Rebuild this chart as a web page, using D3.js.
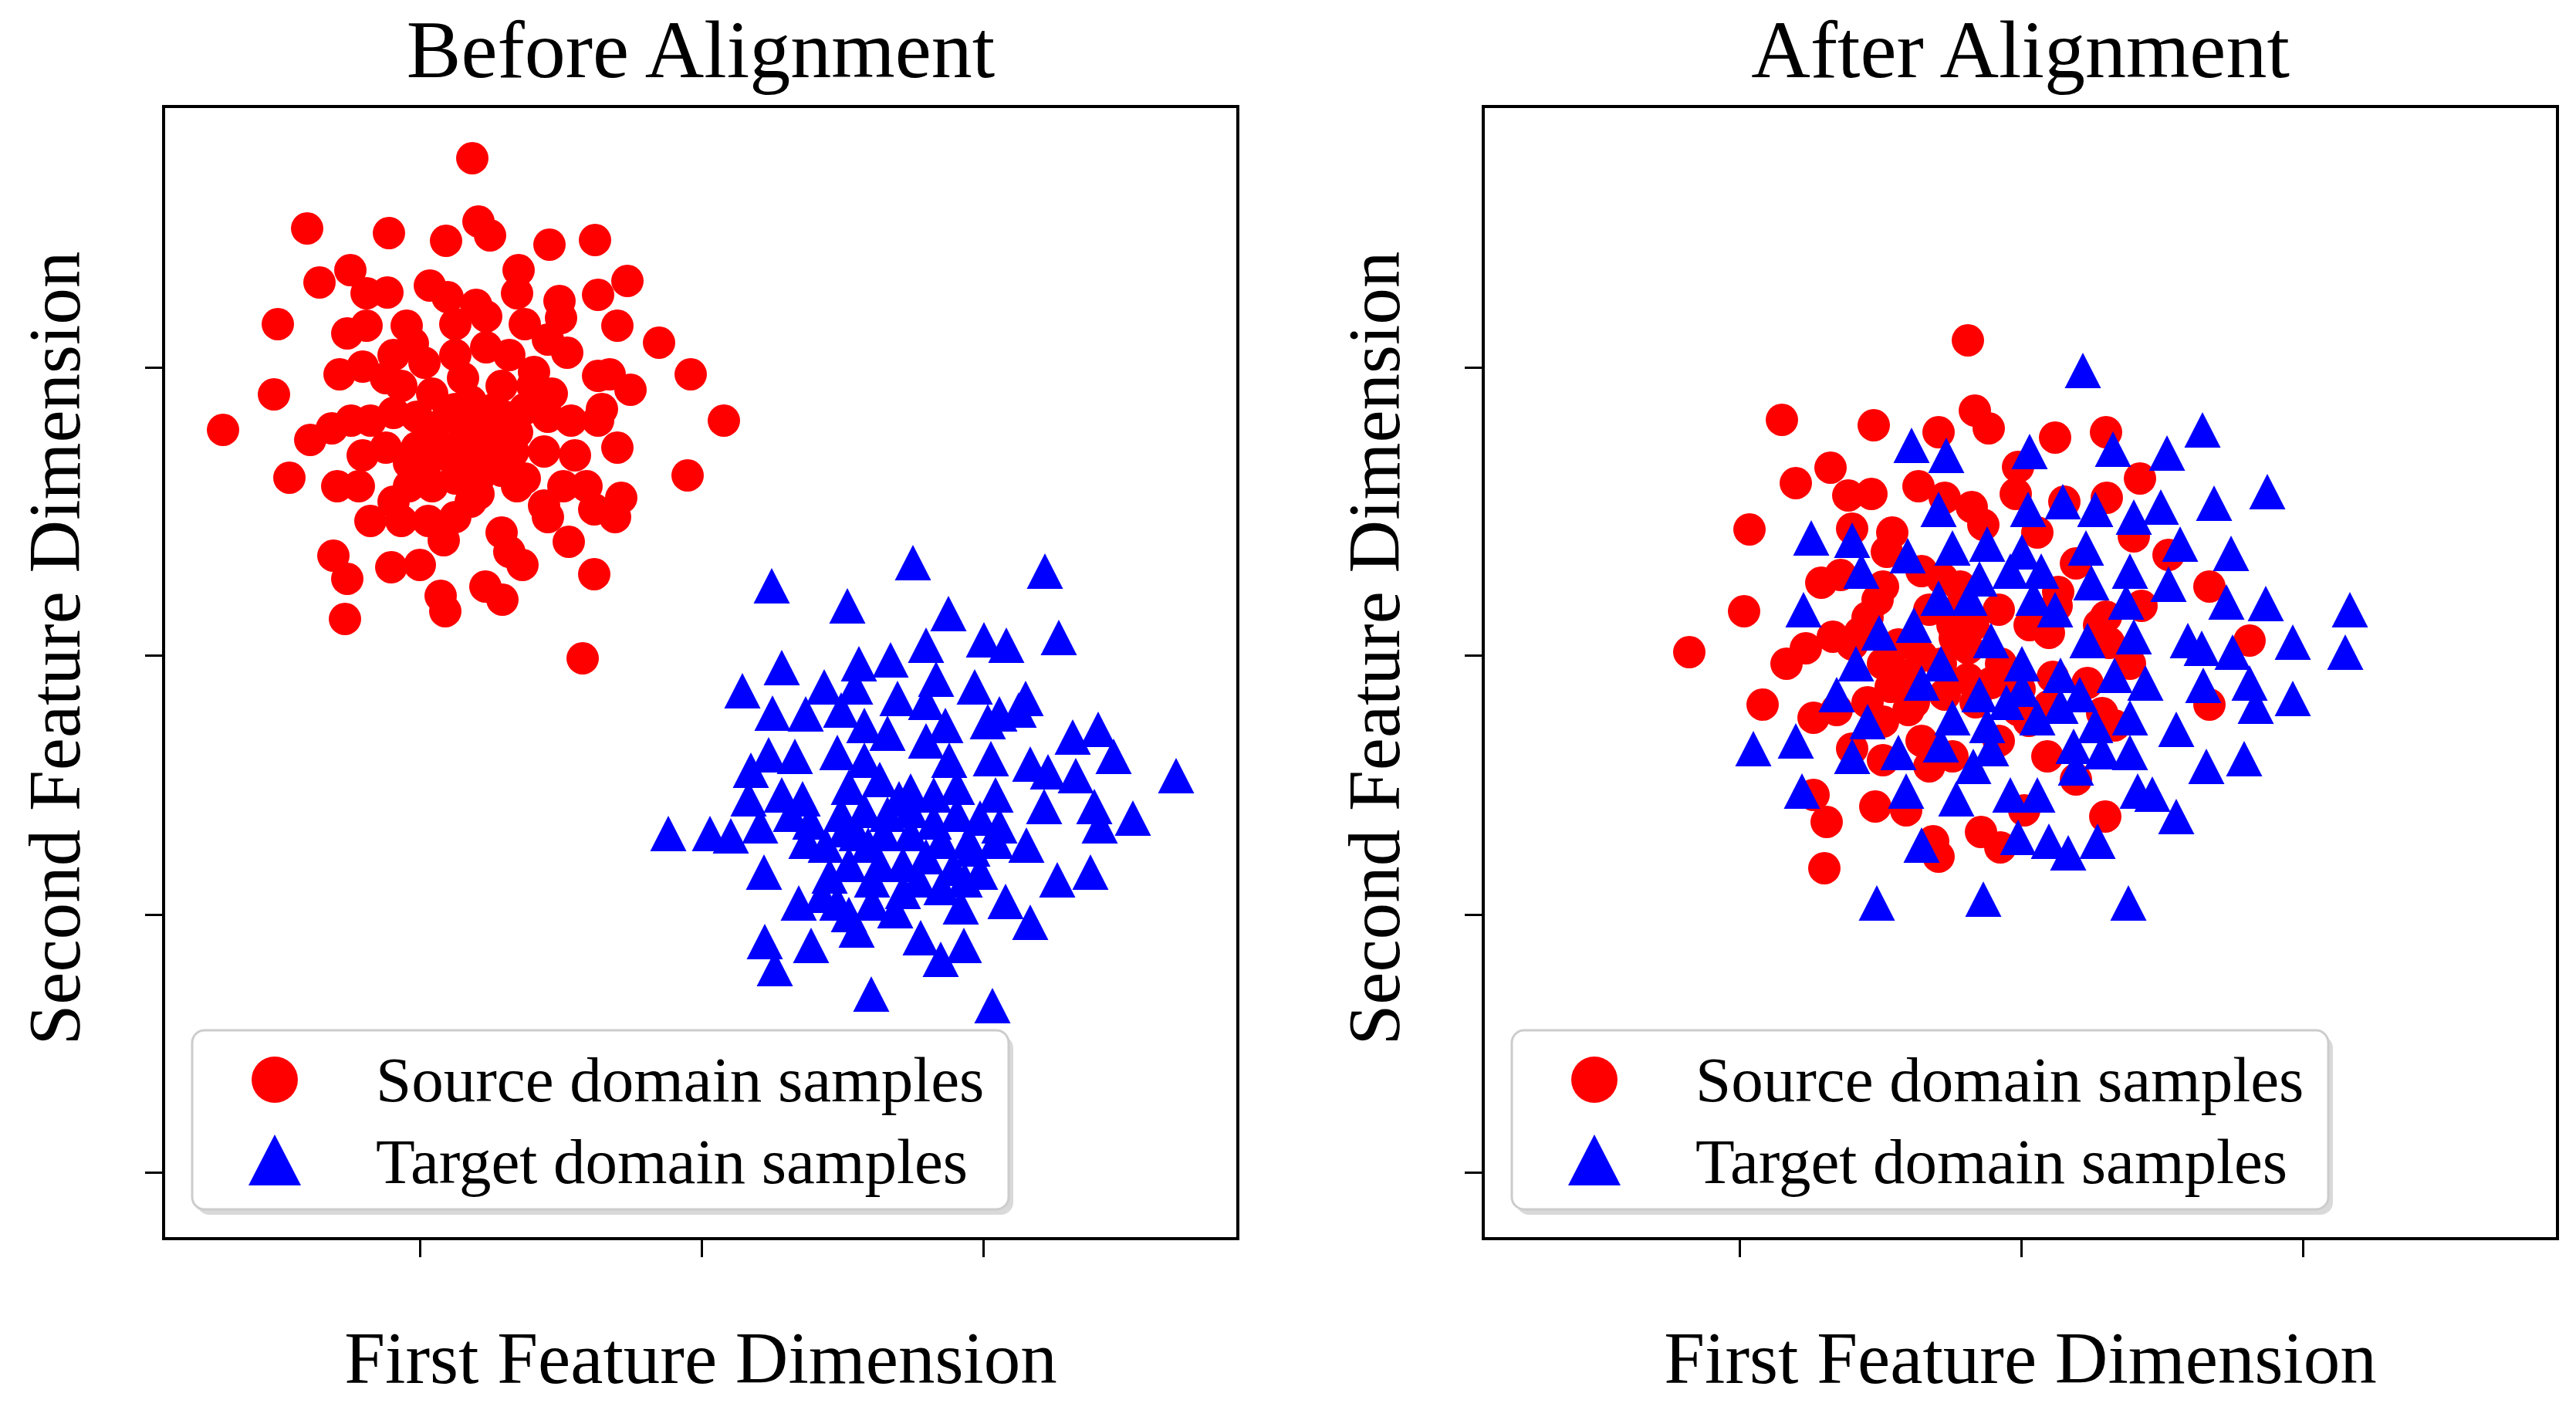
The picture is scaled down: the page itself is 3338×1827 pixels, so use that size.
<!DOCTYPE html>
<html>
<head>
<meta charset="utf-8">
<script src="https://cdn.jsdelivr.net/npm/d3@7"></script>
<style>
  body { margin: 0; background: #fff; }
  text { font-family: "Liberation Serif", "DejaVu Serif", serif; fill: #000; }
</style>
</head>
<body>
<div id="chart"></div>
<script>

// feature coordinates (arbitrary units, 0 at the middle ticks)
var beforeSource = [
  [-2.97,6.44],[-5.11,5.53],[-4.05,5.47],[-3.31,5.37],[-2.89,5.62],[-2.74,5.44],[-1.97,5.32],[-1.38,5.38],
  [-4.95,4.83],[-4.55,4.99],[-4.34,4.69],[-4.07,4.70],[-3.52,4.79],[-3.29,4.64],[-2.92,4.54],[-2.37,4.99],[-2.39,4.69],[-1.84,4.59],[-1.82,4.37],[-1.34,4.67],[-0.96,4.85],
  [-5.49,4.29],[-4.59,4.17],[-4.34,4.27],[-3.82,4.27],[-3.74,4.04],[-3.19,4.29],[-2.79,4.39],[-2.79,3.99],[-2.29,4.29],[-1.99,4.09],[-1.74,3.92],[-1.09,4.27],[-0.55,4.05],
  [-4.69,3.64],[-4.39,3.74],[-4.09,3.59],[-3.89,3.49],[-3.59,3.79],[-3.19,3.89],[-3.09,3.59],[-2.59,3.49],[-2.17,3.67],[-1.94,3.39],[-1.34,3.62],[-1.19,3.64],[-0.92,3.44],[-0.14,3.64],
  [-5.54,3.38],[-6.20,2.92],[-5.07,2.79],[-4.79,2.94],[-4.54,3.04],[-4.29,3.04],[-3.99,3.14],[-3.69,3.09],[-3.49,2.89],[-3.19,3.19],[-2.89,2.99],[-2.54,3.09],[-2.29,3.19],[-1.99,3.09],[-1.69,3.04],[-1.34,3.04],[-1.09,2.69],[0.29,3.04],
  [-5.34,2.30],[-4.72,2.19],[-4.44,2.19],[-4.39,2.59],[-4.09,2.69],[-3.79,2.49],[-3.59,2.39],[-3.29,2.59],[-2.99,2.49],[-2.79,2.59],[-2.44,2.64],[-2.04,2.64],[-1.64,2.59],[-1.49,2.19],[-1.04,2.04],[-1.12,1.79],[-0.18,2.33],
  [-4.29,1.74],[-3.99,1.99],[-3.89,1.74],[-3.54,1.74],[-3.34,1.49],[-3.19,1.79],[-2.89,2.09],[-2.59,1.59],[-2.39,2.19],[-2.04,1.94],[-1.99,1.79],[-1.72,1.47],[-2.49,1.34],[-2.32,1.17],
  [-4.77,1.29],[-4.59,0.99],[-4.02,1.14],[-3.65,1.17],[-3.38,0.77],[-3.32,0.57],[-2.80,0.89],[-2.58,0.72],[-1.39,1.05],[-4.62,0.47],[-1.54,-0.04],
  [-3.49,3.39],[-3.29,3.09],[-2.99,3.29],[-2.69,3.19],[-3.39,2.69],[-3.09,2.79],[-2.69,2.79],[-2.39,2.89],[-3.69,2.69],[-3.49,2.19],[-3.19,2.29],[-2.89,2.29],[-2.59,2.39],[-3.79,2.19],[-2.29,2.29],[-1.79,2.19],[-2.99,1.99],[-1.39,1.89],[-1.29,3.19],[-2.19,3.49],[-3.99,3.89],[-2.49,3.89]
];

var beforeTarget = [
  [2.74,1.20],[4.45,1.09],[0.91,0.90],[1.89,0.64],[3.20,0.54],[4.63,0.23],[3.66,0.20],[3.95,0.13],[2.91,0.13],
  [1.04,-0.16],[2.04,-0.11],[2.45,-0.06],[0.53,-0.46],[1.59,-0.41],[1.99,-0.41],[3.04,-0.31],[3.54,-0.41],[4.20,-0.56],
  [0.92,-0.75],[1.35,-0.76],[1.81,-0.71],[2.54,-0.56],[2.91,-0.61],[3.71,-0.86],[3.86,-0.76],[4.11,-0.71],[2.11,-0.91],[2.41,-1.01],[3.16,-0.91],[2.91,-1.11],[4.81,-1.06],[5.14,-0.96],[5.34,-1.31],
  [0.64,-1.49],[0.87,-1.29],[1.21,-1.31],[1.76,-1.26],[2.11,-1.36],[3.21,-1.36],[3.75,-1.34],[4.26,-1.41],[4.49,-1.51],[4.85,-1.56],[6.15,-1.56],
  [0.61,-1.86],[1.04,-1.81],[1.31,-1.86],[1.91,-1.71],[2.31,-1.61],[2.71,-1.76],[3.31,-1.71],[3.81,-1.81],[4.44,-1.96],[5.09,-1.96],
  [-0.43,-2.31],[0.11,-2.31],[0.38,-2.34],[0.76,-2.21],[1.16,-2.06],[1.41,-2.16],[1.81,-2.06],[2.11,-2.01],[2.41,-2.06],[2.71,-2.01],[3.01,-2.16],[3.31,-2.06],[3.61,-2.11],[3.86,-2.21],[4.21,-2.46],[5.16,-2.21],[5.59,-2.11],
  [0.81,-2.81],[1.61,-2.46],[2.01,-2.31],[2.36,-2.31],[2.71,-2.31],[3.11,-2.41],[3.46,-2.41],[3.81,-2.41],
  [1.66,-2.86],[1.91,-2.71],[2.31,-2.71],[2.61,-2.71],[2.91,-2.61],[3.26,-2.76],[3.61,-2.81],[4.61,-2.91],[5.04,-2.81],
  [1.26,-3.21],[1.56,-3.11],[1.76,-3.21],[2.21,-3.21],[2.61,-3.06],[3.11,-3.01],[3.36,-3.26],[3.94,-3.19],[4.26,-3.46],
  [2.01,-3.56],[2.84,-3.66],[3.40,-3.76],[0.82,-3.71],[1.42,-3.76],[3.10,-3.94],[0.95,-4.06],[2.20,-4.39],[3.77,-4.54],
  [1.86,-2.26],[2.56,-1.86],[3.01,-1.81],[2.16,-2.46],[3.41,-2.91],[1.36,-2.41],[2.81,-2.91],[2.21,-2.91],[3.51,-2.51],[1.91,-3.36],[2.51,-3.31]
];

var afterSource = [
  [-0.69,4.08],[-3.10,3.05],[-1.91,2.98],[-1.07,2.89],[-0.60,3.17],[-0.42,2.94],[0.44,2.82],[1.10,2.89],
  [-2.92,2.23],[-2.47,2.43],[-2.24,2.07],[-1.94,2.09],[-1.33,2.19],[-0.99,2.04],[-0.64,1.92],[-0.04,2.44],[-0.07,2.09],[0.56,1.99],[1.11,2.04],[1.54,2.29],
  [-3.52,1.63],[-2.19,1.64],[-1.67,1.59],[-1.74,1.34],[-0.49,1.69],[0.21,1.59],[0.71,1.19],[1.46,1.54],
  [-2.59,0.94],[-2.34,1.04],[-1.79,0.89],[-1.29,1.09],[-0.79,0.89],[0.46,0.64],[1.56,0.64],[-3.59,0.57],
  [-4.30,0.04],[-3.04,-0.11],[-2.79,0.09],[-2.44,0.24],[-2.19,0.14],[-1.79,-0.11],[-1.49,-0.26],[-0.89,0.39],[-0.69,0.09],[-0.29,0.59],[0.11,0.39],[0.36,0.29],[1.01,0.39],[1.41,-0.11],
  [-3.35,-0.64],[-2.69,-0.81],[-2.39,-0.71],[-1.99,-0.61],[-1.69,-0.41],[-1.39,-0.61],[-0.99,-0.51],[-0.59,-0.61],[-0.04,-0.71],[0.36,-0.66],[0.86,-0.36],[1.21,-0.91],
  [-2.19,-1.21],[-1.79,-1.36],[-1.29,-1.11],[-0.89,-1.31],[-0.29,-1.11],[0.34,-1.31],[0.71,-1.61],
  [-2.69,-1.81],[-2.52,-2.16],[-1.89,-1.96],[-1.49,-2.01],[-1.14,-2.41],[-1.07,-2.61],[-0.52,-2.29],[-0.27,-2.49],[0.04,-2.01],[1.09,-2.09],[-2.55,-2.76],
  [-1.59,0.14],[-1.29,-0.01],[-1.04,-0.11],[-0.69,-0.31],[-1.79,-0.86],[-0.39,-0.36],[-1.19,0.59],[-1.99,0.49],
  [2.44,0.89],[2.96,0.19],[2.44,-0.64],
  [-1.86,0.72],[-1.02,0.99],[-0.86,0.56],[0.48,0.82],[-2.09,0.29],[-1.52,-0.44],[-0.86,0.22],[-0.26,-0.11],[0.41,-0.28],[-0.02,-0.44],
  [-1.19,-1.44],[-1.60,-0.25],[-1.46,-0.71],[-0.62,0.39],[1.91,1.30],[1.10,0.50],[1.14,0.16],[1.05,-0.75],[0.10,-0.85]
];

var afterTarget = [
  [0.80,3.69],[-1.42,2.72],[-0.97,2.59],[0.11,2.64],[1.19,2.67],[-1.07,1.89],[0.54,1.99],[0.09,1.89],[0.96,1.89],[1.46,1.79],
  [-2.72,1.52],[-2.19,1.49],[-1.47,1.29],[-0.89,1.39],[-0.44,1.44],[0.01,1.34],[0.84,1.39],[-2.07,1.09],[-0.14,1.09],[0.26,1.09],[0.91,0.94],[1.41,1.09],
  [-2.82,0.59],[-1.07,0.74],[-0.67,0.74],[0.16,0.74],[0.44,0.59],[1.36,0.69],[-1.84,0.29],[-1.39,0.39],[-0.39,0.19],[0.86,0.19],[1.46,0.24],
  [-2.14,-0.11],[-1.04,-0.11],[0.01,-0.11],[0.51,-0.26],[1.21,-0.26],[-2.39,-0.51],[-1.29,-0.36],[-0.54,-0.51],[-0.19,-0.61],[0.76,-0.51],[1.61,-0.36],
  [-1.99,-0.86],[-0.89,-0.81],[-0.44,-0.91],[0.21,-0.81],[0.96,-0.91],[1.41,-0.81],
  [-3.47,-1.21],[-2.92,-1.11],[-2.19,-1.31],[-1.59,-1.26],[-1.04,-1.16],[-0.39,-1.21],[0.71,-1.46],[1.41,-1.26],
  [-2.84,-1.76],[-1.49,-1.76],[-0.84,-1.86],[-0.14,-1.81],[0.21,-1.81],[1.51,-1.76],
  [-1.29,-2.46],[-0.04,-2.36],[0.36,-2.41],[0.99,-2.41],[0.61,-2.56],[-1.87,-3.21],[-0.49,-3.16],[1.39,-3.21],
  [2.35,2.92],[1.89,2.62],[3.19,2.12],[2.50,1.97],[2.06,1.44],[2.72,1.32],[2.66,0.69],[3.17,0.67],[4.26,0.59],[2.16,0.19],[2.34,0.09],[2.74,0.04],[3.52,0.17],[4.20,0.04],
  [2.36,-0.39],[2.96,-0.36],[3.52,-0.56],[3.04,-0.66],[2.01,-0.96],[2.40,-1.44],[2.89,-1.34],[2.01,-2.09],[1.91,0.92],
  [-0.54,0.99],[0.51,-0.66],
  [0.01,-0.44],[0.68,-1.18],[-0.62,-1.44],[1.81,1.92],[1.05,-1.25],[1.70,-1.80]
];

var panelTitles = ["Before Alignment", "After Alignment"];
var xLabel = "First Feature Dimension",
    yLabel = "Second Feature Dimension";
var legendLabels = ["Source domain samples", "Target domain samples"];
var xTicks = [-3.65, 0, 3.65];
var yTicks = [3.73, 0, -3.36, -6.70];
var xDomain = [-6.97, 6.95],
    yDomain = [-7.56, 7.11];

//Layout helpers
var width = 3338, height = 1827;
var frame = {left: 212, top: 138, width: 1392, height: 1467},
    panelShift = 1710;

var x = d3.scaleLinear().domain(xDomain).range([0, frame.width]),
    y = d3.scaleLinear().domain(yDomain).range([frame.height, 0]);

var xAxis = d3.axisBottom(x).tickValues(xTicks).tickFormat("").tickSizeInner(24).tickSizeOuter(0),
    yAxis = d3.axisLeft(y).tickValues(yTicks).tickFormat("").tickSizeInner(24).tickSizeOuter(0);

var svg = d3.select("#chart").append("svg")
            .attr("width", width)
            .attr("height", height);

svg.append("rect").attr("width", width).attr("height", height).attr("fill", "#fff");

// matplotlib style "^": box-centred triangle
function triangle(w, h) {
    return "M0," + (-h) + "L" + w + "," + h + "L" + (-w) + "," + h + "Z";
}

function drawPanel(i, source, target) {
    var g = svg.append("g")
        .attr("transform", "translate(" + (frame.left + i * panelShift) + "," + frame.top + ")");

    g.append("g").selectAll("circle")
        .data(source)
        .enter().append("circle")
        .attr("cx", function(d) { return x(d[0]); })
        .attr("cy", function(d) { return y(d[1]); })
        .attr("r", 21)
        .attr("fill", "#ff0000");

    g.append("g").selectAll("path")
        .data(target)
        .enter().append("path")
        .attr("d", triangle(23.5, 23))
        .attr("transform", function(d) { return "translate(" + x(d[0]) + "," + y(d[1]) + ")"; })
        .attr("fill", "#0000ff");

    var gx = g.append("g")
        .attr("transform", "translate(0," + frame.height + ")")
        .call(xAxis);
    var gy = g.append("g").call(yAxis);
    [gx, gy].forEach(function(a) {
        a.select(".domain").remove();
        a.selectAll(".tick line").attr("stroke", "#000").attr("stroke-width", 3);
    });

    g.append("rect")
        .attr("width", frame.width)
        .attr("height", frame.height)
        .attr("fill", "none")
        .attr("stroke", "#000")
        .attr("stroke-width", 4);

    //Legend
    var lg = g.append("g").attr("transform", "translate(37,1197)");
    lg.append("rect")
        .attr("x", 6).attr("y", 7)
        .attr("width", 1058).attr("height", 232)
        .attr("rx", 16)
        .attr("fill", "#000").attr("fill-opacity", 0.15);
    lg.append("rect")
        .attr("width", 1058).attr("height", 232)
        .attr("rx", 16)
        .attr("fill", "#fff")
        .attr("stroke", "#cccccc")
        .attr("stroke-width", 3);
    lg.append("circle")
        .attr("cx", 107).attr("cy", 64).attr("r", 30)
        .attr("fill", "#ff0000");
    lg.append("path")
        .attr("d", triangle(34, 33))
        .attr("transform", "translate(107,168)")
        .attr("fill", "#0000ff");
    lg.selectAll("text.lab")
        .data(legendLabels)
        .enter().append("text")
        .attr("class", "lab")
        .attr("x", 238)
        .attr("y", function(d, k) { return 92 + k * 106; })
        .style("font-size", "83px")
        .text(function(d) { return d; });

    g.append("text")
        .attr("x", frame.width / 2)
        .attr("y", -38)
        .style("text-anchor", "middle")
        .style("font-size", "106px")
        .text(panelTitles[i]);

    g.append("text")
        .attr("x", frame.width / 2)
        .attr("y", 1654)
        .style("text-anchor", "middle")
        .style("font-size", "95px")
        .text(xLabel);

    g.append("text")
        .attr("transform", "translate(-109,702) rotate(-90)")
        .style("text-anchor", "middle")
        .style("font-size", "95px")
        .text(yLabel);
}

drawPanel(0, beforeSource, beforeTarget);
drawPanel(1, afterSource, afterTarget);
</script>
</body>
</html>
